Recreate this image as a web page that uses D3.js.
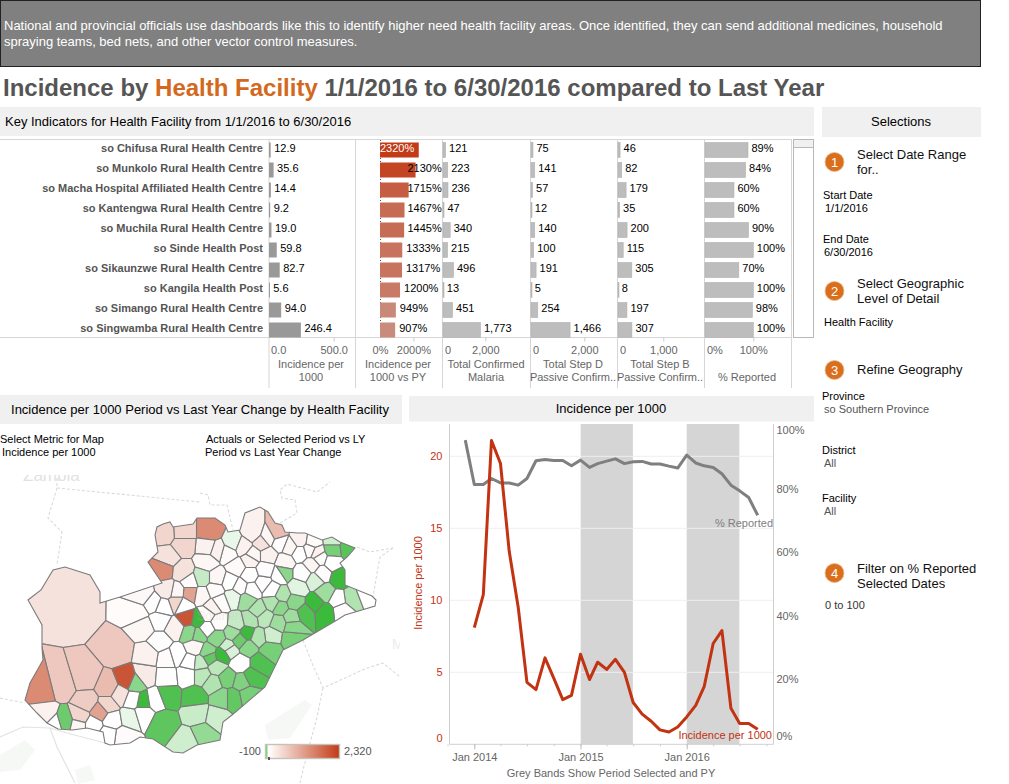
<!DOCTYPE html>
<html>
<head>
<meta charset="utf-8">
<script src="https://d3js.org/d3.v7.min.js"></script>
<style>
  html, body { margin: 0; padding: 0; background: #fff; }
  svg { display: block; }
  text { font-family: "Liberation Sans", Arial, sans-serif; }
</style>
</head>
<body>
<svg id="chart" width="1009" height="784"></svg>
<script>
const facilities = ["so Chifusa Rural Health Centre", "so Munkolo Rural Health Centre", "so Macha Hospital Affiliated Health Centre",
  "so Kantengwa Rural Health Centre", "so Muchila Rural Health Centre", "so Sinde Health Post", "so Sikaunzwe Rural Health Centre",
  "so Kangila Health Post", "so Simango Rural Health Centre", "so Singwamba Rural Health Centre"];
const incidence = [12.9, 35.6, 14.4, 9.2, 19.0, 59.8, 82.7, 5.6, 94.0, 246.4];
const incidenceVsPY = [2320, 2130, 1715, 1467, 1445, 1333, 1317, 1200, 949, 907];
const confirmedMalaria = [121, 223, 236, 47, 340, 215, 496, 13, 451, 1773];
const stepD = [75, 141, 57, 12, 140, 100, 191, 5, 254, 1466];
const stepB = [46, 82, 179, 35, 200, 115, 305, 8, 197, 307];
const pctReported = [89, 84, 60, 60, 90, 100, 70, 100, 98, 100];

// monthly series, Dec 2013 to Sep 2016 for reporting, Jan 2014 on for incidence
const reportedSeries = [96, 82, 82, 83.9, 82.5, 82.5, 81.8, 83.9, 89.5, 89.9, 89.6, 89.6, 87.9, 89.7, 87.4, 88.6, 89.4,
  90.1, 88.6, 89.2, 89.3, 88.5, 88.5, 87.8, 87.2, 91.3, 88.8, 87.9, 87.4, 85.4, 81.8, 80, 77.9, 72.3];
const incidenceSeries = [8.1, 10.4, 21.1, 19.5, 13.4, 9.5, 4.3, 3.8, 6, 4.6, 3.1, 3.4, 6.25, 4.5, 5.7, 5.2, 5.9, 5,
  2.9, 2.1, 1.6, 1, 0.85, 1.2, 1.9, 2.7, 4, 7, 7.9, 2.5, 1.45, 1.45, 1.05];

// province outline, lon/lat
const provinceOutline = [[25.41,-15.90],[25.53,-15.70],[25.65,-15.67],[25.90,-15.75],[26.00,-15.92],[26.00,-16.03],[26.20,-15.97],[26.62,-15.83],
  [26.48,-15.62],[26.58,-15.52],[26.55,-15.35],[26.57,-15.27],[26.63,-15.24],[26.70,-15.22],[26.73,-15.27],[26.93,-15.24],[26.97,-15.18],[27.15,-15.18],
  [27.25,-15.25],[27.28,-15.32],[27.40,-15.30],[27.45,-15.13],[27.60,-15.07],[27.68,-15.12],[27.75,-15.23],[27.82,-15.25],[27.85,-15.32],[27.98,-15.33],
  [28.05,-15.33],[28.22,-15.40],[28.32,-15.37],[28.40,-15.42],[28.55,-15.48],[28.47,-15.57],[28.40,-15.63],[28.45,-15.70],[28.45,-15.85],[28.72,-15.96],
  [28.76,-16.00],[28.75,-16.06],[28.45,-16.15],[28.37,-16.20],[28.03,-16.40],[27.83,-16.50],[27.65,-16.87],[27.32,-17.15],[27.23,-17.22],[27.20,-17.40],
  [26.97,-17.45],[26.83,-17.53],[26.73,-17.52],[26.53,-17.39],[26.40,-17.37],[26.30,-17.43],[26.10,-17.45],[26.05,-17.43],[26.03,-17.32],[25.87,-17.28],
  [25.72,-17.30],[25.58,-17.29],[25.47,-17.23],[25.37,-17.13],[25.25,-17.00],[25.30,-16.83],[25.43,-16.60],[25.42,-16.48],[25.42,-16.25],[25.28,-16.00]];

// facility catchment sites: lon, lat, % change vs last year
const facilitySites = [
  [25.75,-16.12,340],[26.18,-16.50,650],[25.62,-16.85,650],[25.42,-16.90,1380],[25.85,-16.78,650],[25.87,-17.02,600],[25.80,-17.17,500],[26.00,-17.12,1100],
  [26.08,-16.88,800],[26.28,-16.80,2000],[26.08,-17.05,500],[26.20,-16.95,340],[26.45,-16.75,250],[25.45,-17.15,170],[25.55,-17.25,0],[25.65,-17.22,-75],
  [25.78,-17.25,100],[25.93,-17.25,0],[26.12,-17.20,0],[26.30,-17.17,-12],[26.23,-17.37,50],[26.08,-17.35,0],[26.43,-17.02,-100],[26.35,-16.83,-60],
  [26.33,-17.00,0],[26.55,-17.00,0],[26.43,-17.13,0],
  [26.63,-17.23,-82],[26.68,-16.95,-90],[26.95,-16.97,-90],[26.97,-17.13,-28],[27.17,-17.17,-25],[27.03,-17.35,-55],[26.88,-17.42,-25],
  [26.67,-16.77,20],[26.67,-16.58,50],[26.60,-16.42,20],[26.48,-16.55,170],[26.87,-16.75,0],[26.90,-16.62,0],[26.77,-16.55,0],[27.00,-16.63,-30],[27.02,-16.75,-35],
  [27.17,-16.67,-35],[27.13,-16.83,-40],[27.10,-16.57,-80],[27.22,-16.55,-100],[27.27,-16.78,-70],[27.22,-16.98,-60],[27.33,-16.98,-80],[27.42,-16.82,-65],
  [27.48,-16.95,-70],[27.52,-16.77,-90],[27.60,-16.63,-90],[27.40,-16.63,0],[27.48,-16.47,-60],[27.70,-16.50,-70],[27.28,-16.47,-25],[27.17,-16.38,-60],
  [27.47,-16.33,-100],[27.33,-16.33,-50],[27.72,-16.35,-25],[27.92,-16.38,-70],[27.78,-16.23,-50],[27.80,-16.07,-60],[27.92,-16.17,-50],[27.93,-16.27,-60],
  [27.58,-16.10,-40],[27.73,-16.03,-40],[27.65,-16.18,-35],[27.37,-16.23,-30],[27.50,-16.20,-40],[26.98,-16.20,-100],[26.87,-16.18,2000],[26.90,-16.33,-60],
  [26.98,-16.35,-60],[26.75,-16.28,170],[26.95,-16.47,100],[27.07,-16.28,0],[27.18,-16.22,50],[27.13,-16.07,170],[27.30,-16.50,-20],[27.08,-16.52,-60],
  [27.40,-16.40,-75],[27.58,-16.37,-40],[27.33,-15.97,-12],[27.47,-16.00,-50],[27.20,-16.02,50],[27.07,-16.15,50],[26.83,-16.05,0],[26.77,-16.02,500],
  [26.63,-16.07,0],[26.53,-16.03,20],[26.37,-16.13,50],[26.43,-15.95,80],[26.43,-16.27,100],[26.60,-16.20,20],
  [27.10,-15.32,1380],[26.83,-15.32,500],[26.65,-15.33,500],[27.08,-15.47,170],[26.83,-15.45,500],[26.68,-15.57,340],[26.63,-15.70,1380],[27.07,-15.62,100],
  [27.33,-15.43,-12],[26.83,-15.72,340],[26.90,-15.82,50],[27.02,-15.78,-30],[26.90,-15.93,1100],[26.77,-15.92,100],[26.67,-15.90,250],[27.02,-15.95,100],
  [27.17,-15.78,100],[27.15,-15.90,50],[27.30,-15.82,0],[27.40,-15.87,50],[27.63,-15.83,30],[27.53,-15.33,170],[27.77,-15.33,800],[27.62,-15.43,340],
  [27.53,-15.55,100],[27.43,-15.47,170],[27.68,-15.38,100],[27.80,-15.43,30],[27.90,-15.47,100],[28.00,-15.40,170],[28.13,-15.42,40],[28.00,-15.53,0],
  [28.10,-15.50,60],[28.17,-15.53,170],[28.20,-15.58,40],[27.85,-15.62,100],[27.68,-15.55,170],[27.50,-15.60,170],[27.37,-15.67,60],[27.28,-15.53,60],
  [27.17,-15.50,170],[27.50,-15.75,0],[27.65,-15.70,30],[27.80,-15.75,0],[27.83,-15.73,-60],[27.72,-15.90,0],[27.52,-15.90,20],
  [28.33,-15.40,-25],[28.33,-15.50,-70],[28.48,-15.48,-85],[28.40,-15.78,-100],[28.25,-15.93,-50],[28.52,-15.98,-40],[28.38,-16.00,0],[28.42,-16.10,30],
  [28.65,-15.93,0],[28.15,-16.03,-100],[28.05,-16.13,-90],[28.25,-16.12,-100],[27.95,-16.02,-60],[27.82,-15.95,-40],[27.98,-15.88,-15],[28.15,-15.80,-20],[28.22,-15.73,30],
  [28.12,-15.65,120],[28.03,-15.73,20],[28.32,-15.62,0]];

// faint admin borders of the base map, lon/lat
const baseBorders = [
  [[25.57,-14.78],[25.57,-14.88],[27.00,-15.02]],
  [[25.57,-14.88],[25.48,-15.18],[25.62,-15.32],[25.57,-15.65]],
  [[27.00,-14.93],[27.08,-14.95],[27.10,-15.05],[27.27,-15.05],[27.33,-15.30]],
  [[27.80,-15.23],[27.97,-15.13],[27.95,-15.00],[27.82,-14.98],[27.80,-14.90],[27.87,-14.84],[28.17,-14.92],[28.30,-14.82]],
  [[28.57,-15.47],[28.70,-15.52],[28.93,-15.48]],
  [[28.93,-15.48],[28.80,-15.57],[28.77,-15.73],[28.73,-15.97]],
  [[28.03,-16.40],[28.12,-16.63],[28.23,-16.88],[28.67,-16.68],[28.83,-16.63],[29.00,-16.77]],
  [[28.23,-16.88],[28.17,-17.17],[28.03,-17.70],[28.00,-17.83]],
  [[25.00,-16.98],[25.25,-17.03]]
];
const baseRoads = [
  [[25.00,-17.37],[25.23,-17.27],[25.50,-17.28],[25.57,-17.47],[25.75,-17.83]],
  [[25.50,-17.28],[25.67,-17.33],[26.05,-17.43]]
];
const baseParks = [
  [[25.00,-17.55],[25.25,-17.40],[25.35,-17.50],[25.20,-17.70],[25.00,-17.72]],
  [[27.65,-17.25],[28.05,-17.00],[28.12,-17.05],[27.90,-17.38],[27.68,-17.40]],
  [[25.75,-17.70],[25.90,-17.65],[25.95,-17.80],[25.78,-17.84]]
];

const ROW_LABEL = "#555", GRID = "#d6d6d6", AXIS_TXT = "#666", ORANGE = "#d96f1d";
const svg = d3.select("#chart");

function txt(sel, x, y, s, size, fill, anchor, weight) {
  return sel.append("text").attr("x", x).attr("y", y).attr("dominant-baseline", "central")
    .attr("font-size", size).attr("fill", fill || "#000").attr("text-anchor", anchor || "start")
    .attr("font-weight", weight || "normal").text(s);
}
function panel(x, y, w, h, fill) {
  svg.append("rect").attr("x", x).attr("y", y).attr("width", w).attr("height", h).attr("fill", fill || "#f0f0f0");
}

/* banner and title */
svg.append("rect").attr("x", 0.5).attr("y", 0.5).attr("width", 980).attr("height", 66).attr("fill", "#808080").attr("stroke", "#222");
txt(svg, 4, 25, "National and provincial officials use dashboards like this to identify higher need health facility areas. Once identified, they can send additional medicines, household", 13, "#fff");
txt(svg, 4, 41, "spraying teams, bed nets, and other vector control measures.", 13, "#fff");
const title = txt(svg, 3, 87, "", 24, "#555", "start", "bold");
title.append("tspan").text("Incidence by ");
title.append("tspan").attr("fill", "#d2691e").text("Health Facility");
title.append("tspan").text(" 1/1/2016 to 6/30/2016 compared to Last Year");

/* key indicators table */
panel(0, 107, 814, 29);
txt(svg, 5, 121, "Key Indicators for Health Facility from 1/1/2016 to 6/30/2016", 13);

const rowY = d3.scaleBand().domain(facilities).range([140, 340]);
const fmtInt = d3.format(",");
const columns = [
  { vals: incidence, x0: 269, px: 64.7 / 500, ticks: [0, 500], tf: d3.format(".1f"), fill: "#999999", lab: d3.format(".1f"), t1: "Incidence per", t2: "1000", tc: 311 },
  { vals: incidenceVsPY, x0: 380, px: 33.4 / 2000, ticks: [0, 2000], tf: d => d + "%", fill: null, lab: d => d + "%", t1: "Incidence per", t2: "1000 vs PY", tc: 398 },
  { vals: confirmedMalaria, x0: 443, px: 42.3 / 2000, ticks: [0, 2000], tf: fmtInt, fill: "#bdbdbd", lab: fmtInt, t1: "Total Confirmed", t2: "Malaria", tc: 486 },
  { vals: stepD, x0: 531, px: 53.3 / 2000, ticks: [0, 2000], tf: fmtInt, fill: "#bdbdbd", lab: fmtInt, t1: "Total Step D", t2: "Passive Confirm..", tc: 573 },
  { vals: stepB, x0: 618, px: 45.3 / 1000, ticks: [0, 1000], tf: fmtInt, fill: "#bdbdbd", lab: fmtInt, t1: "Total Step B", t2: "Passive Confirm..", tc: 660 },
  { vals: pctReported, x0: 705, px: 48.3 / 100, ticks: [0, 100], tf: d => d + "%", fill: "#bdbdbd", lab: d => d + "%", t1: "", t2: "% Reported", tc: 747 }
];
const pctShade = d3.scaleLinear().domain([907, 2320]).range(["#c98b7c", "#c23a16"]);

[269, 355.5, 442.5, 530.5, 617.5, 704.5, 791.5].forEach(x => {
  svg.append("line").attr("x1", x).attr("x2", x).attr("y1", 139).attr("y2", 388).attr("stroke", GRID);
});
[139, 337].forEach(y => {
  svg.append("line").attr("x1", 0).attr("x2", 791).attr("y1", y + 0.5).attr("y2", y + 0.5).attr("stroke", GRID);
});
svg.append("line").attr("x1", 380.5).attr("x2", 380.5).attr("y1", 140).attr("y2", 337).attr("stroke", "#555").attr("stroke-dasharray", "1,2");

facilities.forEach(f => {
  txt(svg, 263, rowY(f) + 8, f, 11, ROW_LABEL, "end", "bold");
});

columns.forEach((c, ci) => {
  const scale = d3.scaleLinear().domain([0, c.ticks[1]]).range([c.x0, c.x0 + c.px * c.ticks[1]]);
  const g = svg.append("g");
  g.selectAll("rect").data(c.vals).join("rect")
    .attr("x", scale(0))
    .attr("y", (d, i) => rowY(facilities[i]) + 2.5)
    .attr("width", d => Math.max(scale(d) - scale(0), 1))
    .attr("height", 15)
    .attr("fill", d => c.fill || pctShade(d))
    .attr("stroke", c.fill ? "#b0b0b0" : "none")
    .attr("stroke-width", c.fill === "#bdbdbd" ? 0.6 : 0);
  g.selectAll("text").data(c.vals).join("text")
    .attr("x", d => {
      if (ci === 1) return d === 2320 ? 380 : Math.min(scale(d) + 4, 407.5);
      return scale(d) + 3.5;
    })
    .attr("y", (d, i) => rowY(facilities[i]) + 8)
    .attr("dominant-baseline", "central")
    .attr("font-size", 11)
    .attr("fill", d => (ci === 1 && d === 2320) ? "#fff" : "#000")
    .text(c.lab);

  const axis = svg.append("g").attr("transform", "translate(0,337.5)")
    .call(d3.axisBottom(scale).tickValues(c.ticks).tickSize(4).tickPadding(6).tickFormat(c.tf));
  axis.select(".domain").remove();
  axis.selectAll("line").attr("stroke", "#ccc");
  axis.selectAll("text").attr("font-size", 11).attr("font-family", null).attr("fill", AXIS_TXT)
    .attr("y", 12.5).attr("dy", "0.35em");
  if (ci !== 1) axis.selectAll(".tick").filter(d => d === 0).select("text").attr("text-anchor", "start").attr("x", 1.5);
  axis.selectAll(".tick").filter(d => d === 0).select("line").remove();

  if (c.t1) txt(svg, c.tc, 364, c.t1, 11, AXIS_TXT, "middle");
  txt(svg, c.tc, 377, c.t2, 11, AXIS_TXT, "middle");
});

// scroll bar
svg.append("rect").attr("x", 793.5).attr("y", 139.5).attr("width", 20).attr("height", 198).attr("fill", "#fff").attr("stroke", "#b8b8b8");
svg.append("rect").attr("x", 793.5).attr("y", 139.5).attr("width", 20).attr("height", 8).attr("fill", "#f0f0f0").attr("stroke", "#b8b8b8");

/* selections panel */
panel(822, 107, 159, 30);
txt(svg, 901, 121, "Selections", 13, "#000", "middle");
function step(n, cy, lines, ly) {
  svg.append("circle").attr("cx", 834.5).attr("cy", cy).attr("r", 9.5).attr("fill", ORANGE).attr("stroke", "#e9b98d").attr("stroke-width", 0.8);
  txt(svg, 834.5, cy + 0.5, n, 13, "#fff", "middle");
  lines.forEach((s, i) => txt(svg, 857, ly + i * 15, s, 13, "#111"));
}
step("1", 162, ["Select Date Range", "for.."], 154);
step("2", 291, ["Select Geographic", "Level of Detail"], 283);
step("3", 370, ["Refine Geography"], 369);
step("4", 573, ["Filter on % Reported", "Selected Dates"], 568);
const selectionLabels = [["Start Date", 823, 195, "#000"], ["1/1/2016", 825, 208, "#000"], ["End Date", 823, 239, "#000"], ["6/30/2016", 824, 252, "#000"],
  ["Health Facility", 824, 322, "#000"], ["Province", 822, 396, "#000"], ["so Southern Province", 824, 409, "#555"], ["District", 822, 450, "#000"], ["All", 824, 463, "#555"],
  ["Facility", 822, 498, "#000"], ["All", 824, 511, "#555"], ["0 to 100", 825, 605, "#333"]];
selectionLabels.forEach(d => txt(svg, d[1], d[2], d[0], 11, d[3]));

/* map panel */
panel(0, 395, 402, 29);
txt(svg, 200, 409, "Incidence per 1000 Period vs Last Year Change by Health Facility", 13, "#000", "middle");
txt(svg, 0, 439, "Select Metric for Map", 11);
txt(svg, 2, 452, "Incidence per 1000", 11);
txt(svg, 206, 439, "Actuals or Selected Period vs LY", 11);
txt(svg, 205, 452, "Period vs Last Year Change", 11);

const lonScale = d3.scaleLinear().domain([25, 29]).range([0, 400]);
const latScale = d3.scaleLinear().domain([-10, -18]).range([0, 800]);
const proj = p => [lonScale(p[0]), latScale(p[1])];
const mapLine = d3.line().x(d => lonScale(d[0])).y(d => latScale(d[1]));
const changeColor = d3.scaleLinear().domain([-100, 0, 2320]).range(["#3cba3c", "#ffffff", "#c23a16"]);

const defs = svg.append("defs");
defs.append("clipPath").attr("id", "mapView").append("rect").attr("x", 0).attr("y", 475).attr("width", 400).attr("height", 309);
defs.append("clipPath").attr("id", "provinceClip").append("path").attr("d", mapLine(provinceOutline) + "Z");

const mapG = svg.append("g").attr("clip-path", "url(#mapView)");
mapG.selectAll(".park").data(baseParks).join("path").attr("d", d => mapLine(d) + "Z").attr("fill", "#f6f8f6");
mapG.selectAll(".border").data(baseBorders).join("path").attr("d", mapLine).attr("fill", "none")
  .attr("stroke", "#dadada").attr("stroke-width", 1.1).attr("stroke-dasharray", "3,2");
mapG.selectAll(".road").data(baseRoads).join("path").attr("d", mapLine).attr("fill", "none")
  .attr("stroke", "#e3e3e3").attr("stroke-width", 1.2);
txt(mapG, 23, 475, "Zambia", 17, "#e2e2e2");
txt(mapG, 392, 644, "M", 14, "#ececec");

const sitePts = facilitySites.map(proj);
const voronoi = d3.Delaunay.from(sitePts).voronoi([0, 470, 400, 784]);
const cells = mapG.append("g").attr("clip-path", "url(#provinceClip)");
cells.selectAll("path").data(facilitySites).join("path")
  .attr("d", (d, i) => voronoi.renderCell(i))
  .attr("fill", d => changeColor(d[2]))
  .attr("stroke", "#7b7b7b").attr("stroke-width", 1.1);
mapG.append("path").attr("d", mapLine(provinceOutline) + "Z").attr("fill", "none").attr("stroke", "#7b7b7b").attr("stroke-width", 1.1);
txt(mapG, 197, 616, "Southern", 12, "rgba(200,190,185,0.25)");

// colour legend
const legendScale = d3.scaleLinear().domain([-100, 2320]).range([0, 100]);
const grad = defs.append("linearGradient").attr("id", "legendGrad");
changeColor.domain().forEach(v => grad.append("stop").attr("offset", legendScale(v) + "%").attr("stop-color", changeColor(v)));
svg.append("rect").attr("x", 265.5).attr("y", 744.5).attr("width", 74).attr("height", 14).attr("fill", "url(#legendGrad)").attr("stroke", "#c5c2b9").attr("stroke-width", 1.4);
svg.append("rect").attr("x", 268).attr("y", 757).attr("width", 2).attr("height", 3).attr("fill", "#555");
txt(svg, 261, 751, "-100", 11, "#555", "end");
txt(svg, 344, 751, "2,320", 11, "#555");

/* line chart */
panel(409, 396, 405, 25.5);
txt(svg, 611, 408.5, "Incidence per 1000", 13, "#000", "middle");

const plot = { left: 449.5, right: 773.5, top: 424, bottom: 744.3 };
const reportedMonths = reportedSeries.map((d, i) => new Date(2013, 11 + i, 1));
const incidenceMonths = incidenceSeries.map((d, i) => new Date(2014, i, 1));
const x = d3.scaleTime().domain([new Date(2014, 0, 1), new Date(2016, 0, 1)]).range([474.3, 686.7]);
const yLeft = d3.scaleLinear().domain([0, 20]).range([744.3, 456.3]);
const yRight = d3.scaleLinear().domain([0, 100]).range([744.3, 427.5]);

const bands = [[new Date(2015, 0, 1), new Date(2015, 5, 30)], [new Date(2016, 0, 1), new Date(2016, 5, 30)]];
svg.selectAll(".band").data(bands).join("rect").attr("class", "band")
  .attr("x", d => x(d[0])).attr("width", d => x(d[1]) - x(d[0]))
  .attr("y", plot.top).attr("height", plot.bottom - plot.top).attr("fill", "#d5d5d5");
svg.selectAll(".gridl").data([5, 10, 15, 20]).join("line").attr("class", "gridl")
  .attr("x1", plot.left).attr("x2", plot.right).attr("y1", d => yLeft(d)).attr("y2", d => yLeft(d)).attr("stroke", "#efefef");
[plot.left, plot.right].forEach(px => {
  svg.append("line").attr("x1", px).attr("x2", px).attr("y1", plot.top).attr("y2", plot.bottom).attr("stroke", "#d0d0d0");
});
svg.append("line").attr("x1", 580.3).attr("x2", 580.3).attr("y1", plot.top).attr("y2", plot.bottom).attr("stroke", "#fff").attr("stroke-dasharray", "1,1.5");
svg.append("line").attr("x1", plot.left).attr("x2", plot.right).attr("y1", plot.bottom).attr("y2", plot.bottom).attr("stroke", "#d0d0d0");

const lineFor = (xs, y) => d3.line().x((d, i) => x(xs[i])).y(d => y(d));
svg.append("path").datum(reportedSeries).attr("d", lineFor(reportedMonths, yRight)).attr("fill", "none").attr("stroke", "#7f7f7f").attr("stroke-width", 3).attr("stroke-linejoin", "round");
svg.append("path").datum(incidenceSeries).attr("d", lineFor(incidenceMonths, yLeft)).attr("fill", "none").attr("stroke", "#c23312").attr("stroke-width", 3).attr("stroke-linejoin", "round");

// month ticks, year labels
const minor = svg.append("g").attr("transform", `translate(0,${plot.bottom})`)
  .call(d3.axisBottom(x).tickValues(d3.timeMonth.every(3).range(new Date(2013, 9, 1), new Date(2016, 9, 2))).tickSize(2).tickFormat(""));
minor.select(".domain").remove();
minor.selectAll("line").attr("stroke", "#ccc");
const major = svg.append("g").attr("transform", `translate(0,${plot.bottom})`)
  .call(d3.axisBottom(x).tickValues([new Date(2014, 0, 1), new Date(2015, 0, 1), new Date(2016, 0, 1)]).tickSize(5).tickFormat(d3.timeFormat("Jan %Y")));
major.select(".domain").remove();
major.selectAll("line").attr("stroke", "#bbb");
major.selectAll("text").attr("font-size", 11).attr("font-family", null).attr("fill", AXIS_TXT).attr("y", 13).attr("dy", "0.35em");
txt(svg, 611, 773, "Grey Bands Show Period Selected and PY", 11, AXIS_TXT, "middle");

const leftAxis = svg.append("g").attr("transform", `translate(${plot.left},0)`)
  .call(d3.axisLeft(yLeft).tickValues([0, 5, 10, 15, 20]).tickSize(0).tickPadding(7));
leftAxis.select(".domain").remove();
leftAxis.selectAll("text").attr("font-size", 11).attr("font-family", null).attr("fill", "#c23312");
leftAxis.selectAll(".tick").filter(d => d === 0).select("text").attr("dy", "-0.3em");

// end labels sit inside the plot, so the outer ticks are nudged like the original
const rightAxis = svg.append("g").attr("transform", `translate(${plot.right},0)`)
  .call(d3.axisRight(yRight).tickValues([0, 20, 40, 60, 80, 100]).tickSize(0).tickPadding(3).tickFormat(d => d + "%"));
rightAxis.select(".domain").remove();
rightAxis.selectAll("text").attr("font-size", 11).attr("font-family", null).attr("fill", AXIS_TXT).attr("y", -2);
rightAxis.selectAll(".tick").filter(d => d === 0).select("text").attr("y", 0).attr("dy", "-0.4em");
rightAxis.selectAll(".tick").filter(d => d === 100).select("text").attr("y", 0).attr("dy", "0.55em");

txt(svg, 773, 523, "% Reported", 11, "#808080", "end");
txt(svg, 772, 735, "Incidence per 1000", 11, "#c23312", "end");
svg.append("text").attr("transform", "translate(418,583) rotate(-90)").attr("text-anchor", "middle").attr("dominant-baseline", "central")
  .attr("font-size", 11).attr("fill", "#c23312").text("Incidence per 1000");
</script>
</body>
</html>
